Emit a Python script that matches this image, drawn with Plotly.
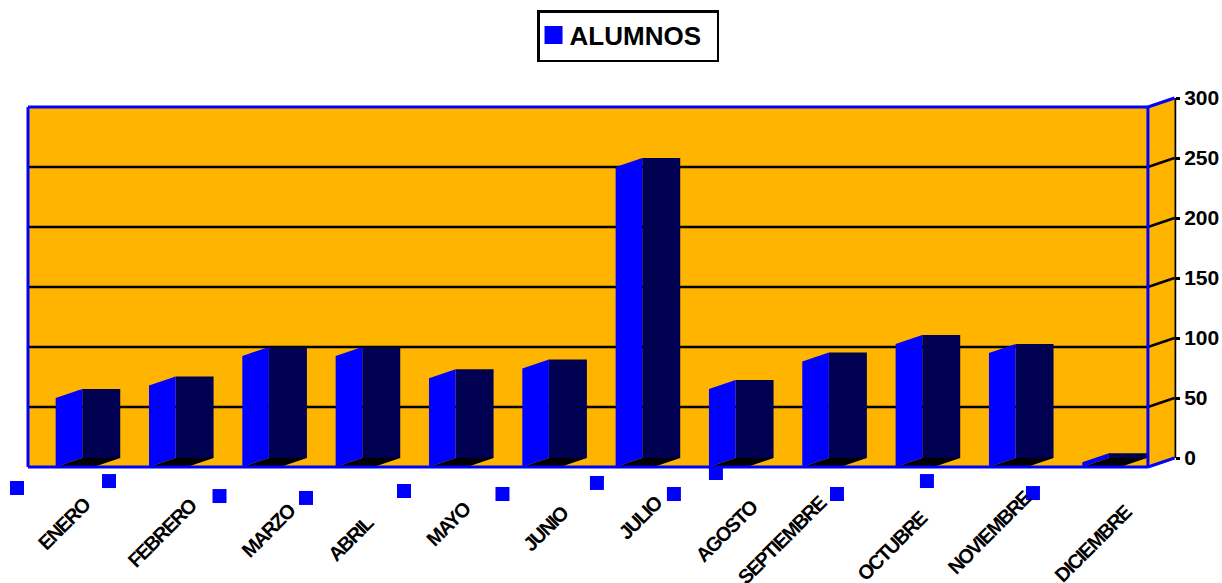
import plotly.graph_objects as go

categories = ["ENERO", "FEBRERO", "MARZO", "ABRIL", "MAYO", "JUNIO", "JULIO",
              "AGOSTO", "SEPTIEMBRE", "OCTUBRE", "NOVIEMBRE", "DICIEMBRE"]
alumnos = [57.5, 68, 92.5, 92.5, 74, 82, 250, 65, 88, 102.5, 95, 4]
tick_values = [0, 50, 100, 150, 200, 250, 300]

# stray legend-key squares below the floor (axis units)
square_x = [-0.618, 0.368, 1.552, 2.479, 3.529, 4.584, 5.596, 6.421, 6.871, 8.168, 9.132, 10.268]
square_y = [-25, -19.2, -31.7, -33.3, -27.5, -30, -20.8, -30, -12.5, -30, -19.2, -29.2]

# upper right end of each slanted category label (axis units)
label_x = [0.164, 1.321, 2.361, 3.196, 4.236, 5.286, 6.293, 7.322, 8.085, 9.143, 10.268, 11.345]
label_y = [-33.3, -33.3, -39.2, -49.2, -37.5, -40.8, -32.5, -35, -29.9, -43.3, -26.7, -38.5]

BLUE, NAVY, ORANGE = "#0000FF", "#000050", "#FFB400"
DX, DY, BAR_W = 0.285, 7.5, 0.407
LEFT, RIGHT = -0.5, 11.5
TOP = tick_values[-1]

shapes = [
    dict(type="path", layer="below", fillcolor=ORANGE, line=dict(width=0),
         path=f"M{LEFT},{-DY} L{RIGHT},{-DY} L{RIGHT},{TOP-DY} L{LEFT},{TOP-DY} Z"),
    dict(type="path", layer="below", fillcolor=ORANGE, line=dict(width=0),
         path=f"M{RIGHT},{-DY} L{RIGHT+DX},0 L{RIGHT+DX},{TOP} L{RIGHT},{TOP-DY} Z"),
]
for v in tick_values[1:-1]:
    shapes.append(dict(type="line", layer="below", x0=LEFT, x1=RIGHT, y0=v-DY, y1=v-DY,
                       line=dict(color="black", width=2.5)))
    shapes.append(dict(type="line", layer="below", x0=RIGHT, x1=RIGHT+DX, y0=v-DY, y1=v,
                       line=dict(color="black", width=2.5)))
# frame
for (x0, y0, x1, y1) in [(LEFT, -DY, LEFT, TOP-DY), (LEFT, TOP-DY, RIGHT, TOP-DY),
                         (RIGHT, -DY, RIGHT, TOP-DY), (RIGHT, TOP-DY, RIGHT+DX, TOP),
                         (RIGHT, -DY, RIGHT+DX, 0)]:
    shapes.append(dict(type="line", layer="below", x0=x0, x1=x1, y0=y0, y1=y1,
                       line=dict(color=BLUE, width=3)))
# value axis line
shapes.append(dict(type="line", layer="below", xref="paper", yref="y", x0=1, x1=1, y0=0, y1=TOP,
                   line=dict(color="black", width=2.5)))

fig = go.Figure()

# front faces
fig.add_trace(go.Bar(x=[i + DX for i in range(len(alumnos))], y=alumnos, width=BAR_W,
                     marker=dict(color=NAVY, line=dict(width=0)), showlegend=False,
                     customdata=categories, hovertemplate="%{customdata}: %{y}<extra></extra>"))

# side faces and floors
side_x, side_y, floor_x, floor_y = [], [], [], []
for i, v in enumerate(alumnos):
    l = i - BAR_W / 2
    side_x += [l, l + DX, l + DX, l, l, None]
    side_y += [-DY, 0, v, v - DY, -DY, None]
    floor_x += [l, l + DX, l + DX + BAR_W, l + BAR_W, l, None]
    floor_y += [-DY, 0, 0, -DY, -DY, None]
fig.add_trace(go.Scatter(x=side_x, y=side_y, mode="lines", fill="toself", fillcolor=BLUE,
                         line=dict(width=0), showlegend=False, hoverinfo="skip"))
fig.add_trace(go.Scatter(x=floor_x, y=floor_y, mode="lines", fill="toself", fillcolor="black",
                         line=dict(width=0), showlegend=False, hoverinfo="skip"))

# floor line on top of the bars' feet
fig.add_trace(go.Scatter(x=[LEFT, RIGHT], y=[-DY, -DY], mode="lines",
                         line=dict(color=BLUE, width=3), showlegend=False, hoverinfo="skip"))

fig.add_trace(go.Scatter(x=square_x, y=square_y, mode="markers",
                         marker=dict(symbol="square", size=14, color=BLUE),
                         showlegend=False, hoverinfo="skip"))

# legend entry
fig.add_trace(go.Scatter(x=[None], y=[None], mode="markers", name="ALUMNOS",
                         marker=dict(symbol="square", size=16, color=BLUE,
                                     line=dict(color=BLUE, width=2))))

annotations = [dict(x=x, y=y, xref="x", yref="y", text=f"<b>{c}</b>", showarrow=False,
                    textangle=-45, xanchor="right", yanchor="top", xshift=9.5, yshift=10,
                    font=dict(family="Liberation Sans", size=20, color="black"))
               for c, x, y in zip(categories, label_x, label_y)]

fig.update_layout(
    width=1222, height=583,
    margin=dict(l=0, r=47, t=0, b=0),
    paper_bgcolor="white", plot_bgcolor="white",
    font=dict(family="Liberation Sans", color="black"),
    barmode="overlay",
    shapes=shapes, annotations=annotations,
    showlegend=True,
    legend=dict(x=0.5345, y=0.938, xanchor="center", yanchor="middle",
                bordercolor="black", borderwidth=2.5, bgcolor="white",
                font=dict(family="Liberation Sans", size=26, color="black", weight=700),
                orientation="h", itemwidth=30),
    xaxis=dict(range=[-0.8, 11.79], visible=False, fixedrange=True),
    yaxis=dict(range=[-104.17, 381.67], side="right", tickvals=tick_values,
               ticks="outside", ticklen=4, tickwidth=2.5, tickcolor="black",
               showgrid=False, zeroline=False, showline=False, fixedrange=True,
               tickfont=dict(family="Liberation Sans", size=21, color="black", weight=700)),
)

post = """
var s=document.createElement('style');
s.textContent='html,body{margin:0;padding:0;overflow:hidden}'
 +'.annotation-text{letter-spacing:-1.6px}'
 +'.legendtext{transform:translate(-10px,-1.5px)}'
 +'.legendsymbols{transform:translate(-6px,-1px)}';
document.head.appendChild(s);
"""
fig.write_html("out.html", post_script=post, config=dict(displayModeBar=False))
